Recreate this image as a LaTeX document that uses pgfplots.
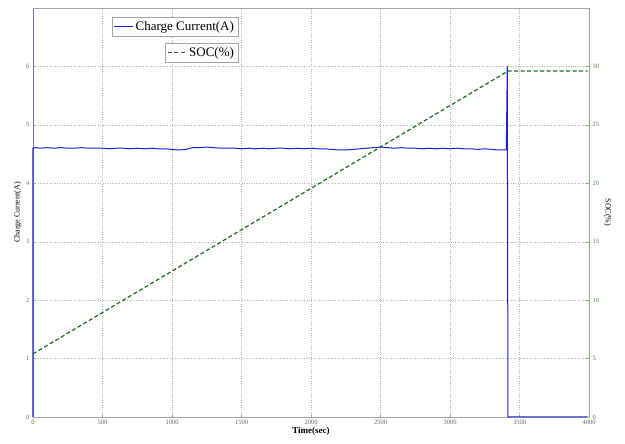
\documentclass[border=0pt]{standalone}
\usepackage{pgfplots}
\pgfplotsset{compat=1.18}
\usepackage{fontspec}
\setmainfont{Liberation Serif}
\definecolor{cblue}{RGB}{30,30,220}
\definecolor{cgreen}{RGB}{25,110,25}
\definecolor{lax}{RGB}{110,110,200}
\definecolor{rax}{RGB}{130,180,130}
\begin{document}
\begin{tikzpicture}
\begin{axis}[
  scale only axis, width=556pt, height=409pt,
  xmin=0, xmax=4000, ymin=0, ymax=7,
  xtick={0,500,...,4000}, ytick={0,1,...,6},
  axis y line*=left, axis x line*=bottom,
  y axis line style={lax},
  x axis line style={gray!70},
  grid=major, grid style={dotted, gray!60},
  tick style={gray!70}, tick align=inside,
  major tick length=3pt,
  ticklabel style={font=\fontsize{6.5}{7}\selectfont, text=gray!80!black},
  /pgf/number format/assume math mode=true,
  /pgf/number format/set thousands separator={},
  xlabel={Time(sec)}, ylabel={Charge Current(A)},
  xlabel style={font=\fontsize{9}{10}\selectfont\bfseries, yshift=5pt},
  ylabel style={font=\fontsize{8}{9}\selectfont, yshift=-2pt},
  every axis legend/.append style={draw=gray!70, fill=white, inner sep=2pt},
  legend style={at={(rel axis cs:0.369,0.978)}, anchor=north east, font=\fontsize{13}{14}\selectfont},
  legend image post style={xscale=1.1},
  legend cell align=left,
  clip=false,
]
\addplot[color=cblue, line width=1pt] coordinates {
(0,0) (0,4.6) (20,4.61) (50,4.6) (100,4.61) (150,4.6) (200,4.61) (250,4.6) (300,4.6) (350,4.61)
(400,4.6) (450,4.6) (500,4.6) (550,4.59) (600,4.6) (650,4.6) (700,4.59) (750,4.6) (800,4.59)
(850,4.6) (900,4.59) (950,4.59) (1000,4.58) (1050,4.57) (1100,4.58) (1150,4.61) (1200,4.61)
(1250,4.62) (1300,4.61) (1350,4.6) (1400,4.6) (1450,4.6) (1500,4.59) (1550,4.6) (1600,4.59)
(1650,4.6) (1700,4.59) (1750,4.6) (1800,4.6) (1850,4.59) (1900,4.6) (1950,4.59) (2000,4.6)
(2050,4.59) (2100,4.59) (2150,4.58) (2200,4.57) (2250,4.57) (2300,4.58) (2350,4.59) (2400,4.6)
(2450,4.61) (2500,4.62) (2550,4.61) (2600,4.6) (2650,4.61) (2700,4.6) (2750,4.6) (2800,4.59)
(2850,4.6) (2900,4.59) (2950,4.6) (3000,4.59) (3050,4.6) (3100,4.59) (3150,4.59) (3200,4.58)
(3250,4.59) (3300,4.58) (3350,4.57) (3405,4.57) (3412,6.0) (3417,0) (3990,0)
};
\addlegendentry{Charge Current(A)}
\draw[gray!70] (rel axis cs:0,1) -- (rel axis cs:1,1);
\path (rel axis cs:0,0) ++(-33pt,-27pt);
\path (rel axis cs:1,1) ++(36pt,8pt);
\end{axis}
\begin{axis}[
  scale only axis, width=556pt, height=409pt,
  xmin=0, xmax=4000, ymin=0, ymax=35,
  ytick={0,5,...,30},
  axis y line*=right, axis x line=none,
  y axis line style={rax},
  tick style={rax}, tick align=inside, major tick length=3pt,
  ticklabel style={font=\fontsize{6.5}{7}\selectfont, text=rax!70!black},
  /pgf/number format/assume math mode=true,
  ylabel={SOC(\%)},
  ylabel style={font=\fontsize{8}{9}\selectfont, rotate=180, yshift=-2pt},
  every axis legend/.append style={draw=gray!70, fill=white, inner sep=2pt},
  legend style={at={(rel axis cs:0.369,0.914)}, anchor=north east, font=\fontsize{13}{14}\selectfont},
  legend image post style={xscale=1.1},
  legend cell align=left,
]
\addplot[color=cgreen, line width=1.2pt, dash pattern=on 4pt off 2.5pt] coordinates {
(0,5.4) (3417,29.6) (3990,29.6)
};
\addlegendentry{SOC(\%)}
\end{axis}
\end{tikzpicture}
\end{document}
